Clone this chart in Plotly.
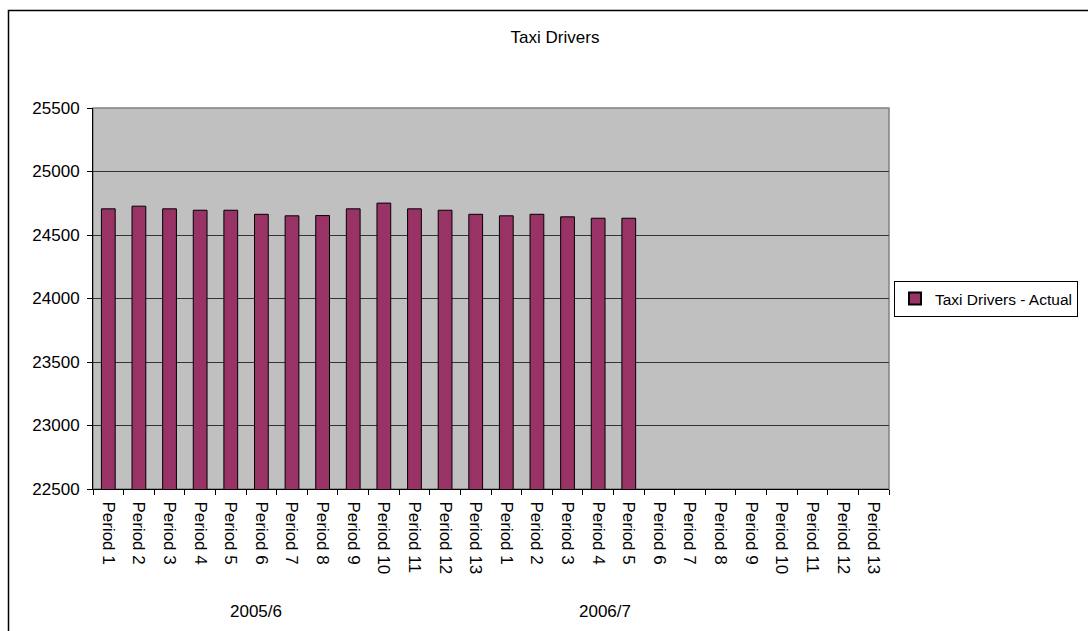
import plotly.graph_objects as go

years = ["2005/6", "2006/7"]
periods = [f"Period {i}" for i in range(1, 14)]
tick_labels = periods + periods
actual = [24706, 24727, 24706, 24695, 24695, 24663, 24651, 24653, 24706, 24751,
          24706, 24695, 24663, 24651, 24663, 24643, 24632, 24632]
series_name = "Taxi Drivers - Actual"
y_min, y_max, y_step = 22500, 25500, 500

n = len(tick_labels)
xs = list(range(n))
vals = actual + [None] * (n - len(actual))

W, H = 1088, 631
L, R, T, B = 93, 889, 108, 489
FONT = "Liberation Sans, Arial, sans-serif"
FS = 17

def px_x(p):
    return (p - L) / (R - L)

def px_y(p):
    return (B - p) / (B - T)

fig = go.Figure()
fig.add_trace(go.Bar(
    x=xs, y=vals, name=series_name,
    marker=dict(color="#993366", line=dict(color="black", width=1)),
    showlegend=True,
))

fig.update_layout(
    width=W, height=H,
    margin=dict(l=L, r=W - R, t=T, b=H - B, autoexpand=False),
    paper_bgcolor="white",
    plot_bgcolor="#C0C0C0",
    font=dict(family=FONT, size=FS, color="black"),
    bargap=0.55,
    title=dict(text="Taxi Drivers", x=555 / W, xanchor="center",
               y=(H - 37) / H, yanchor="middle", yref="container",
               font=dict(family=FONT, size=FS, color="black")),
    showlegend=True,
    legend=dict(x=px_x(894), xanchor="left", y=px_y(299), yanchor="middle",
                bgcolor="white", bordercolor="black", borderwidth=1,
                font=dict(family=FONT, size=15.5, color="black"),
                itemsizing="constant", itemwidth=30),
    xaxis=dict(
        range=[-0.5, n - 0.5],
        tickmode="array", tickvals=xs, ticktext=tick_labels,
        tickangle=90, ticks="", ticklabelstandoff=8,
        showgrid=False, zeroline=False,
        showline=True, linecolor="black", linewidth=1,
        minor=dict(tick0=-0.5, dtick=1, ticks="outside", ticklen=5,
                   tickcolor="black", showgrid=False),
        tickfont=dict(family=FONT, size=FS, color="black"),
        automargin=False,
    ),
    yaxis=dict(
        range=[y_min, y_max], dtick=y_step, tick0=y_min, tickformat="d",
        ticks="outside", ticklen=5, tickcolor="black", ticklabelstandoff=4,
        showgrid=True, gridcolor="#333333", gridwidth=1,
        zeroline=False, showline=True, linecolor="black", linewidth=1,
        tickfont=dict(family=FONT, size=FS, color="black"),
        automargin=False,
    ),
    shapes=[
        dict(type="rect", xref="paper", yref="paper", x0=0, x1=1, y0=0, y1=1,
             line=dict(color="#808080", width=1.5), layer="below"),
        dict(type="rect", xref="paper", yref="paper",
             x0=px_x(8.5), x1=px_x(1200), y0=px_y(10.5), y1=px_y(800),
             line=dict(color="black", width=1.5)),
    ],
    annotations=[
        dict(text=years[0], xref="paper", yref="paper", x=px_x(256), y=px_y(611),
             xanchor="center", yanchor="middle", showarrow=False,
             font=dict(family=FONT, size=FS, color="black")),
        dict(text=years[1], xref="paper", yref="paper", x=px_x(605), y=px_y(611),
             xanchor="center", yanchor="middle", showarrow=False,
             font=dict(family=FONT, size=FS, color="black")),
    ],
)

fig.write_html("out.html")
